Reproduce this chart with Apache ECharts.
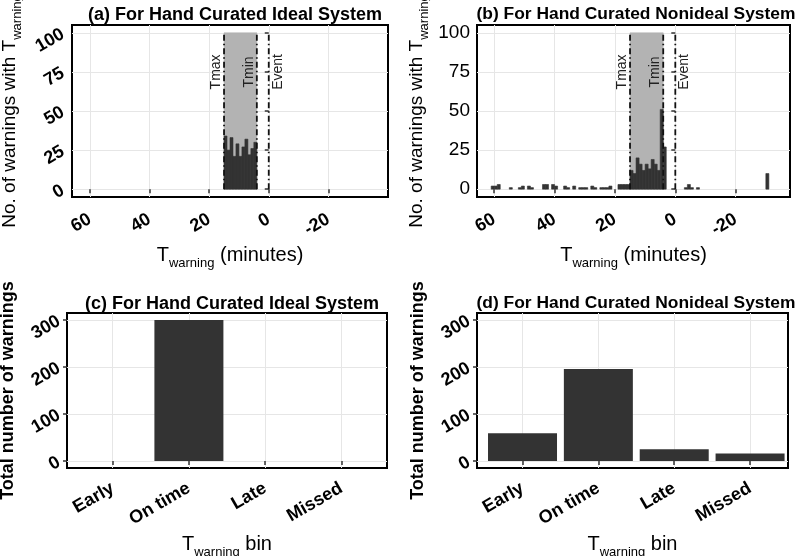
<!DOCTYPE html>
<html>
<head>
<meta charset="utf-8">
<script src="https://cdn.jsdelivr.net/npm/echarts@6/dist/echarts.min.js"></script>
<style>
  html, body { margin: 0; background: #fff; }
  #chart { width: 800px; height: 556px; }
</style>
</head>
<body>
<div id="chart"></div>
<script>
// histogram bins: upper edge of each 1-minute bin (minutes before event)
const idealBinStart = [15, 14, 13, 12, 11, 10, 9, 8, 7, 6, 5];
const idealCounts = [34, 25, 33, 21, 29, 21, 27, 32, 22, 26, 30];

const nonidealBinStart = [61, 60, 59, 55, 52, 51, 49, 48, 44, 43, 41, 40, 37, 36, 34, 32, 31, 30, 28, 27, 25, 24, 23, 22,
  19, 18, 17, 16, 15, 14, 13, 12, 11, 10, 9, 8, 7, 6, 5, 4, -3, -4, -5, -7, -30];
const nonidealCounts = [2, 2, 3, 1, 1, 2, 2, 1, 3, 3, 3, 2, 2, 1, 2, 1, 1, 1, 2, 1, 1, 1, 1, 2,
  3, 3, 3, 3, 12, 10, 20, 16, 12, 16, 13, 19, 16, 12, 51, 27, 1, 3, 1, 1, 10];

const markerNames = ["Tmax", "Tmin", "Event"];
const markerMinutes = [15, 4, 0];
const windowEdges = [15, 4];
const windowTop = 100;
const labelLevel = 75;

const binCategories = ["Early", "On time", "Late", "Missed"];
const idealTotals = [0, 300, 0, 0];
const nonidealTotals = [59, 196, 25, 16];

const minuteTicks = [60, 40, 20, 0, -20];
const countTicks = [0, 25, 50, 75, 100];
const totalTicks = [0, 100, 200, 300];
const categoryTicks = [1, 2, 3, 4];

const FONT = "Liberation Sans, Arial, sans-serif";
const DARK = "#333333";
const binWidth = 1;

const chart = echarts.init(document.getElementById("chart"));

const grids = [
  { left: 72, top: 25, width: 316, height: 172 },
  { left: 477, top: 25, width: 313, height: 172 },
  { left: 67, top: 313, width: 320, height: 155 },
  { left: 477, top: 313, width: 311, height: 155 },
].map((g) => ({ ...g, show: true, borderColor: "#000", borderWidth: 2, backgroundColor: "#fff", outerBoundsMode: "none", containLabel: false }));

const tickStyle = { show: true, length: 4, lineStyle: { color: "#333", width: 1.5 } };
const splitStyle = { show: true, lineStyle: { color: "#e6e6e6", width: 1 } };
const boldLabel = { fontSize: 18, fontWeight: "bold", color: "#000", fontFamily: FONT };

const subRich = {
  t: { fontSize: 20, fontFamily: FONT, color: "#000", padding: [0, 0, 5, 0] },
  s: { fontSize: 13, fontFamily: FONT, color: "#000", verticalAlign: "bottom" },
};
const twarn = "{t|T}{s|warning}";

function minuteAxis(i, minV, maxV) {
  return {
    gridIndex: i, type: "value", inverse: true, min: minV, max: maxV, interval: 20,
    axisLine: { show: false },
    axisTick: { ...tickStyle, customValues: minuteTicks },
    axisLabel: { ...boldLabel, customValues: minuteTicks, rotate: 30, margin: 21 },
    splitLine: splitStyle,
    name: twarn + "{t| (minutes)}", nameLocation: "middle", nameGap: 48,
    nameTextStyle: { rich: subRich },
  };
}

function countAxis(i, plain) {
  return {
    gridIndex: i, type: "value", min: -5, max: 105, interval: 25,
    axisLine: { show: false },
    axisTick: { ...tickStyle, customValues: countTicks },
    axisLabel: plain
      ? { customValues: countTicks, fontSize: 19, color: "#000", fontFamily: FONT, margin: 7 }
      : { ...boldLabel, customValues: countTicks, rotate: 30, margin: 9 },
    splitLine: splitStyle,
    name: "{t|No. of warnings with }" + twarn, nameLocation: "middle", nameGap: plain ? 46 : 48,
    nameTextStyle: { rich: { ...subRich, t: { ...subRich.t, fontSize: 19 } } },
  };
}

function binAxis(i, maxV) {
  return {
    gridIndex: i, type: "value", min: 0.4, max: maxV, interval: 1,
    axisLine: { show: false },
    axisTick: { ...tickStyle, customValues: categoryTicks },
    axisLabel: {
      ...boldLabel, customValues: categoryTicks, rotate: 30, margin: 19,
      formatter: (v) => binCategories[Math.round(v) - 1] || "",
    },
    splitLine: splitStyle,
    name: twarn + "{t| bin}", nameLocation: "middle", nameGap: 66,
    nameTextStyle: { rich: subRich },
  };
}

function totalAxis(i) {
  return {
    gridIndex: i, type: "value", min: -15, max: 315, interval: 100,
    axisLine: { show: false },
    axisTick: { ...tickStyle, customValues: totalTicks },
    axisLabel: { ...boldLabel, customValues: totalTicks, rotate: 30, margin: 8 },
    splitLine: splitStyle,
    name: "Total number of warnings", nameLocation: "middle", nameGap: 50,
    nameTextStyle: { fontSize: 18, fontWeight: "bold", color: "#000", fontFamily: FONT },
  };
}

function rectItem(api, x0, x1, top, color) {
  const a = api.coord([x0, top]);
  const b = api.coord([x1, 0]);
  return {
    type: "rect",
    shape: { x: Math.min(a[0], b[0]), y: a[1], width: Math.abs(b[0] - a[0]), height: b[1] - a[1] },
    style: { fill: color, stroke: color, lineWidth: 0.6 },
  };
}

function panelSeries(i, starts, counts) {
  const list = [];
  list.push({
    type: "custom", xAxisIndex: i, yAxisIndex: i, silent: true,
    data: [[windowEdges[0], windowEdges[1], windowTop]],
    renderItem: (p, api) => rectItem(api, api.value(0), api.value(1), api.value(2), "#b3b3b3"),
  });
  list.push({
    type: "custom", xAxisIndex: i, yAxisIndex: i, silent: true,
    data: starts.map((s, k) => [s, s - binWidth, counts[k]]),
    renderItem: (p, api) => rectItem(api, api.value(0), api.value(1), api.value(2), DARK),
  });
  markerMinutes.forEach((m) => {
    list.push({
      type: "line", xAxisIndex: i, yAxisIndex: i, silent: true, symbol: "none",
      data: [[m, 0], [m, windowTop]],
      lineStyle: { color: "#111", width: 1.8, type: [6, 3, 1.5, 3] },
    });
  });
  // rotated marker captions, just beside each line
  list.push({
    type: "custom", xAxisIndex: i, yAxisIndex: i, silent: true, z: 5,
    data: markerMinutes.map((m, k) => [m, labelLevel, k]),
    renderItem: (p, api) => {
      const k = api.value(2);
      const pt = api.coord([api.value(0), api.value(1)]);
      return {
        type: "text", x: pt[0] + (k === 2 ? 9 : -8), y: pt[1], rotation: Math.PI / 2,
        style: { text: markerNames[k], fontSize: 14, fill: "#222", fontFamily: FONT, align: "center", verticalAlign: "middle" },
      };
    },
  });
  return list;
}

function totalSeries(i, values) {
  return {
    type: "bar", xAxisIndex: i, yAxisIndex: i, barWidth: 69, silent: true,
    data: values.map((v, k) => [categoryTicks[k], v]),
    itemStyle: { color: DARK },
  };
}

const titleStyle = { fontSize: 18, fontWeight: "bold", color: "#000", fontFamily: FONT };
const titleStyleWide = { ...titleStyle, fontSize: 17.4 };

chart.setOption({
  animation: false,
  title: [
    { text: "(a) For Hand Curated Ideal System", left: 230, top: 1, textAlign: "center", textStyle: titleStyle },
    { text: "(b) For Hand Curated Nonideal System", left: 631, top: 1, textAlign: "center", textStyle: titleStyleWide },
    { text: "(c) For Hand Curated Ideal System", left: 227, top: 290, textAlign: "center", textStyle: titleStyle },
    { text: "(d) For Hand Curated Nonideal System", left: 631, top: 290, textAlign: "center", textStyle: titleStyleWide },
  ],
  grid: grids,
  xAxis: [minuteAxis(0, -40, 66), minuteAxis(1, -38, 65.7), binAxis(2, 4.6), binAxis(3, 4.5)],
  yAxis: [countAxis(0, false), countAxis(1, true), totalAxis(2), totalAxis(3)],
  series: [
    ...panelSeries(0, idealBinStart, idealCounts),
    ...panelSeries(1, nonidealBinStart, nonidealCounts),
    totalSeries(2, idealTotals),
    totalSeries(3, nonidealTotals),
  ],
});
</script>
</body>
</html>
